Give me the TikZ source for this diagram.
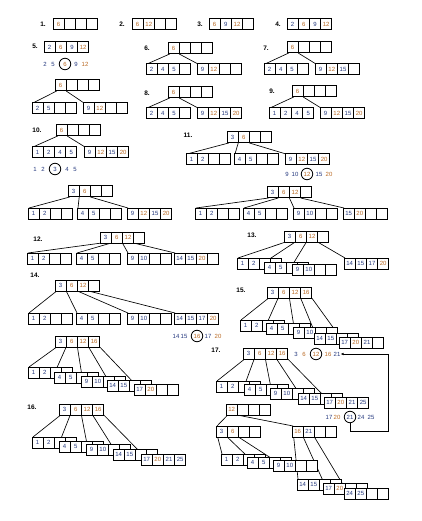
\documentclass[tikz,border=0pt]{standalone}
\usepackage{fontspec}
\setmainfont{Liberation Sans}
\usetikzlibrary{calc,backgrounds,arrows.meta}
\definecolor{kb}{RGB}{35,55,125}
\definecolor{ko}{RGB}{185,105,35}
\colorlet{k1}{kb}\colorlet{k2}{kb}\colorlet{k3}{kb}\colorlet{k4}{kb}\colorlet{k5}{kb}
\colorlet{k6}{ko}\colorlet{k9}{kb}\colorlet{k10}{kb}\colorlet{k12}{ko}\colorlet{k14}{kb}
\colorlet{k15}{kb}\colorlet{k16}{ko}\colorlet{k17}{kb}\colorlet{k20}{ko}\colorlet{k21}{kb}
\colorlet{k24}{kb}\colorlet{k25}{kb}
\newcommand\kc[1]{\if\relax\detokenize{#1}\relax\else\textcolor{k#1}{#1}\fi}
\def\cw{11.2}
\tikzset{
  btbox/.style={draw, line width=1pt, fill=white, minimum width=44.8pt, minimum height=11pt, inner sep=0pt, outer sep=0pt},
  divider/.style={line width=0.7pt},
  key/.style={font=\fontsize{6}{7}\selectfont, inner sep=0pt},
  steplabel/.style={font=\bfseries\fontsize{6.5}{7}\selectfont, inner sep=0pt},
  link/.style={line width=0.65pt},
  ring/.style={draw, circle, minimum size=11.5pt, inner sep=0pt, line width=0.8pt}
}
\newcommand\btn[7]{%
  \node[btbox, anchor=north west] (#1) at (#2,#3) {};
  \draw[divider] ($(#1.north west)+(\cw,0)$) -- ($(#1.south west)+(\cw,0)$)
    ($(#1.north west)+(2*\cw,0)$) -- ($(#1.south west)+(2*\cw,0)$)
    ($(#1.north west)+(3*\cw,0)$) -- ($(#1.south west)+(3*\cw,0)$);
  \node[key] at ($(#1.west)+(0.5*\cw,0)$) {\kc{#4}};
  \node[key] at ($(#1.west)+(1.5*\cw,0)$) {\kc{#5}};
  \node[key] at ($(#1.west)+(2.5*\cw,0)$) {\kc{#6}};
  \node[key] at ($(#1.west)+(3.5*\cw,0)$) {\kc{#7}};
}
\newcommand\lnk[3]{\draw[link] ($(#1.south west)+(#2*\cw,0)$) -- ($(#3.north west)+(1,0)$);}
\begin{document}
\begin{tikzpicture}[x=1pt,y=-1pt]
\useasboundingbox (0,0) rectangle (422,521);
% step labels
\node[steplabel] (L1) at (43,24) {1.};
\node[steplabel] (L2) at (122,24) {2.};
\node[steplabel] (L3) at (200,24) {3.};
\node[steplabel] (L4) at (278,24) {4.};
\node[steplabel] (L5) at (35,46) {5.};
\node[steplabel] (L6) at (147,48) {6.};
\node[steplabel] (L7) at (266,48) {7.};
\node[steplabel] (L8) at (147,93) {8.};
\node[steplabel] (L9) at (272,91) {9.};
\node[steplabel] (L10) at (37,130) {10.};
\node[steplabel] (L11) at (188,135) {11.};
\node[steplabel] (L12) at (38,239) {12.};
\node[steplabel] (L13) at (252,235) {13.};
\node[steplabel] (L14) at (35,275) {14.};
\node[steplabel] (L15) at (241,290) {15.};
\node[steplabel] (L16) at (32,407) {16.};
\node[steplabel] (L17) at (216,350) {17.};
% 1-4
\btn{s1}{53}{19}{6}{}{}{}
\btn{s2}{132}{19}{6}{12}{}{}
\btn{s3}{209}{19}{6}{9}{12}{}
\btn{s4}{287}{19}{2}{6}{9}{12}
% 5
\btn{s5}{44}{42}{2}{6}{9}{12}
\node[key] (r5a) at (45,64) {\kc{2}};
\node[key] (r5b) at (53,64) {\kc{5}};
\node[key,ring] (r5c) at (65,64) {\kc{6}};
\node[key] (r5d) at (76,64) {\kc{9}};
\node[key] (r5e) at (85,64) {\kc{12}};
\btn{s5r}{55}{80}{6}{}{}{}
\btn{s5a}{32}{103}{2}{5}{}{}
\btn{s5b}{83}{103}{9}{12}{}{}
% 6
\btn{s6r}{168}{43}{6}{}{}{}
\btn{s6a}{146}{64}{2}{4}{5}{}
\btn{s6b}{197}{64}{9}{12}{}{}
% 7
\btn{s7r}{287}{42}{6}{}{}{}
\btn{s7a}{264}{64}{2}{4}{5}{}
\btn{s7b}{315}{64}{9}{12}{15}{}
% 8
\btn{s8r}{168}{87}{6}{}{}{}
\btn{s8a}{146}{108}{2}{4}{5}{}
\btn{s8b}{197}{108}{9}{12}{15}{20}
% 9
\btn{s9r}{292}{86}{6}{}{}{}
\btn{s9a}{269}{108}{1}{2}{4}{5}
\btn{s9b}{320}{108}{9}{12}{15}{20}
% 10
\btn{s10r}{56}{125}{6}{}{}{}
\btn{s10a}{32}{147}{1}{2}{4}{5}
\btn{s10b}{84}{147}{9}{12}{15}{20}
\node[key] (r10a) at (35,169) {\kc{1}};
\node[key] (r10b) at (43,169) {\kc{2}};
\node[key,ring] (r10c) at (55,169) {\kc{3}};
\node[key] (r10d) at (67,169) {\kc{4}};
\node[key] (r10e) at (75,169) {\kc{5}};
\btn{s10R}{68}{186}{3}{6}{}{}
\btn{s10c}{28}{208}{1}{2}{}{}
\btn{s10d}{77}{208}{4}{5}{}{}
\btn{s10e}{127}{208}{9}{12}{15}{20}
% 11
\btn{s11r}{227}{132}{3}{6}{}{}
\btn{s11a}{186}{154}{1}{2}{}{}
\btn{s11b}{234}{154}{4}{5}{}{}
\btn{s11c}{285}{154}{9}{12}{15}{20}
\node[key] (r11a) at (287,174) {\kc{9}};
\node[key] (r11b) at (295,174) {\kc{10}};
\node[key,ring] (r11c) at (307,174) {\kc{12}};
\node[key] (r11d) at (319,174) {\kc{15}};
\node[key] (r11e) at (329,174) {\kc{20}};
\btn{s11R}{267}{187}{3}{6}{12}{}
\btn{s11d}{195}{208}{1}{2}{}{}
\btn{s11e}{243}{208}{4}{5}{}{}
\btn{s11f}{293}{208}{9}{10}{}{}
\btn{s11g}{343}{208}{15}{20}{}{}
% 12
\btn{s12r}{100}{232}{3}{6}{12}{}
\btn{s12a}{27}{253}{1}{2}{}{}
\btn{s12b}{76}{253}{4}{5}{}{}
\btn{s12c}{127}{253}{9}{10}{}{}
\btn{s12d}{174}{253}{14}{15}{20}{}
% 13
\btn{s13r}{284}{231}{3}{6}{12}{}
\btn{s13a}{237}{258}{1}{2}{}{}
\btn{s13b}{264}{262}{4}{5}{}{}
\btn{s13c}{292}{264}{9}{10}{}{}
\btn{s13d}{344}{258}{14}{15}{17}{20}
% 14
\btn{s14r}{55}{280}{3}{6}{12}{}
\btn{s14a}{28}{313}{1}{2}{}{}
\btn{s14b}{76}{313}{4}{5}{}{}
\btn{s14c}{127}{313}{9}{10}{}{}
\btn{s14d}{174}{313}{14}{15}{17}{20}
\node[key] (r14a) at (176,336) {\kc{14}};
\node[key] (r14b) at (184,336) {\kc{15}};
\node[key,ring] (r14c) at (197,336) {\kc{16}};
\node[key] (r14d) at (208,336) {\kc{17}};
\node[key] (r14e) at (218,336) {\kc{20}};
\btn{s14R}{55}{336}{3}{6}{12}{16}
\btn{s14e}{28}{367}{1}{2}{}{}
\btn{s14f}{54}{372}{4}{5}{}{}
\btn{s14g}{81}{376}{9}{10}{}{}
\btn{s14h}{107}{380}{14}{15}{}{}
\btn{s14i}{134}{384}{17}{20}{}{}
% 15
\btn{s15r}{267}{287}{3}{6}{12}{16}
\btn{s15a}{240}{320}{1}{2}{}{}
\btn{s15b}{266}{323}{4}{5}{}{}
\btn{s15c}{293}{327}{9}{10}{}{}
\btn{s15d}{314}{333}{14}{15}{}{}
\btn{s15e}{339}{337}{17}{20}{21}{}
% 16
\btn{s16r}{59}{404}{3}{6}{12}{16}
\btn{s16a}{32}{437}{1}{2}{}{}
\btn{s16b}{59}{441}{4}{5}{}{}
\btn{s16c}{86}{444}{9}{10}{}{}
\btn{s16d}{113}{449}{14}{15}{}{}
\btn{s16e}{141}{454}{17}{20}{21}{25}
% 17
\btn{s17r}{243}{348}{3}{6}{12}{16}
\node[key] (r17a) at (296,354) {\kc{3}};
\node[key] (r17b) at (304,354) {\kc{6}};
\node[key,ring] (r17c) at (316,354) {\kc{12}};
\node[key] (r17d) at (328,354) {\kc{16}};
\node[key] (r17e) at (337,354) {\kc{21}};
\btn{s17a}{216}{381}{1}{2}{}{}
\btn{s17b}{244}{384}{4}{5}{}{}
\btn{s17c}{270}{388}{9}{10}{}{}
\btn{s17d}{298}{393}{14}{15}{}{}
\btn{s17e}{324}{397}{17}{20}{21}{25}
\node[key] (q17a) at (329,417) {\kc{17}};
\node[key] (q17b) at (337,417) {\kc{20}};
\node[key,ring] (q17c) at (350,417) {\kc{21}};
\node[key] (q17d) at (361,417) {\kc{24}};
\node[key] (q17e) at (371,417) {\kc{25}};
\coordinate (turnA) at (388,431);
\draw[link,-{Latex[length=3pt,width=2.5pt]}] (q17c.south) |- (turnA) |- (r17e.east);
\btn{s17R}{226}{404}{12}{}{}{}
\btn{s17m}{216}{426}{3}{6}{}{}
\btn{s17n}{292}{426}{16}{21}{}{}
\btn{s17f}{221}{454}{1}{2}{}{}
\btn{s17g}{247}{457}{4}{5}{}{}
\btn{s17h}{273}{460}{9}{10}{}{}
\btn{s17i}{297}{479}{14}{15}{}{}
\btn{s17j}{323}{483}{17}{20}{}{}
\btn{s17k}{344}{488}{24}{25}{}{}
% connectors
\begin{pgfonlayer}{background}
\lnk{s5r}{0.15}{s5a} \lnk{s5r}{1}{s5b}
\lnk{s6r}{0.15}{s6a} \lnk{s6r}{1}{s6b}
\lnk{s7r}{0.15}{s7a} \lnk{s7r}{1}{s7b}
\lnk{s8r}{0.15}{s8a} \lnk{s8r}{1}{s8b}
\lnk{s9r}{0.15}{s9a} \lnk{s9r}{1}{s9b}
\lnk{s10r}{0.15}{s10a} \lnk{s10r}{1}{s10b}
\lnk{s10R}{0.15}{s10c} \lnk{s10R}{1}{s10d} \lnk{s10R}{2}{s10e}
\lnk{s11r}{0.15}{s11a} \lnk{s11r}{1}{s11b} \lnk{s11r}{2}{s11c}
\lnk{s11R}{0.15}{s11d} \lnk{s11R}{1}{s11e} \lnk{s11R}{2}{s11f} \lnk{s11R}{3}{s11g}
\lnk{s12r}{0.15}{s12a} \lnk{s12r}{1}{s12b} \lnk{s12r}{2}{s12c} \lnk{s12r}{3}{s12d}
\lnk{s13r}{0.15}{s13a} \lnk{s13r}{1}{s13b} \lnk{s13r}{2}{s13c} \lnk{s13r}{3}{s13d}
\lnk{s14r}{0.15}{s14a} \lnk{s14r}{1}{s14b} \lnk{s14r}{2}{s14c} \lnk{s14r}{3}{s14d}
\lnk{s14R}{0.15}{s14e} \lnk{s14R}{1}{s14f} \lnk{s14R}{2}{s14g} \lnk{s14R}{3}{s14h} \lnk{s14R}{4}{s14i}
\lnk{s15r}{0.15}{s15a} \lnk{s15r}{1}{s15b} \lnk{s15r}{2}{s15c} \lnk{s15r}{3}{s15d} \lnk{s15r}{4}{s15e}
\lnk{s16r}{0.15}{s16a} \lnk{s16r}{1}{s16b} \lnk{s16r}{2}{s16c} \lnk{s16r}{3}{s16d} \lnk{s16r}{4}{s16e}
\lnk{s17r}{0.15}{s17a} \lnk{s17r}{1}{s17b} \lnk{s17r}{2}{s17c} \lnk{s17r}{3}{s17d} \lnk{s17r}{4}{s17e}
\lnk{s17R}{0.15}{s17m} \lnk{s17R}{1}{s17n}
\lnk{s17m}{0.15}{s17f} \lnk{s17m}{1}{s17g} \lnk{s17m}{2}{s17h}
\lnk{s17n}{0.15}{s17i} \lnk{s17n}{1}{s17j} \lnk{s17n}{2}{s17k}
\end{pgfonlayer}
\end{tikzpicture}
\end{document}
